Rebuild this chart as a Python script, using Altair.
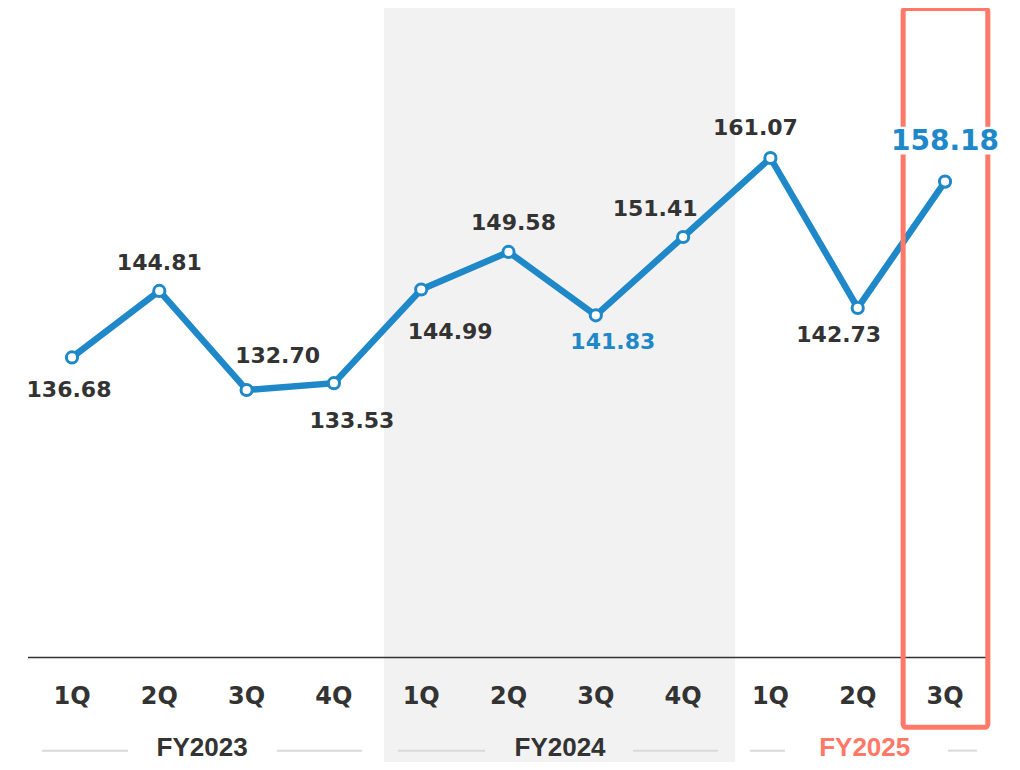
import altair as alt
import pandas as pd

# ---- data ----
quarters = ["1Q", "2Q", "3Q", "4Q", "1Q", "2Q", "3Q", "4Q", "1Q", "2Q", "3Q"]
values = [136.68, 144.81, 132.70, 133.53, 144.99, 149.58, 141.83, 151.41, 161.07, 142.73, 158.18]
fiscal_years = ["FY2023", "FY2024", "FY2025"]
fy_centers = [1.49, 5.59, 9.08]

# label styling (offsets in px), colours, sizes
label_dx = [-3, 0, 31, 18, 29, 5, 17, -28, -15, -19, 0]
label_dy = [33, -28, -34, 38, 43, -29, 27, -28, -30, 27, -40]
label_color = ["#333333"] * 11
label_color[6] = "#1E88C8"
label_color[10] = "#1E88C8"
label_size = [22] * 11
label_size[10] = 28

BLUE = "#1E88C8"
RED = "#FF7868"
DARK = "#333333"
FONT = "DejaVu Sans"

XDOM = [-0.733, 10.767]
YDOM = [87.21, 179.41]
xs = alt.Scale(domain=XDOM, nice=False, zero=False)
ys = alt.Scale(domain=YDOM, nice=False, zero=False)

df = pd.DataFrame({"i": list(range(len(values))), "v": values, "q": quarters})

# grey band behind FY2024
band = alt.Chart(pd.DataFrame({"x": [3.574], "x2": [7.595], "y": [YDOM[0]], "y2": [YDOM[1] + 0.2]})).mark_rect(
    color="#F2F2F2", clip=True
).encode(
    x=alt.X("x:Q", scale=xs, axis=None), x2="x2", y=alt.Y("y:Q", scale=ys, axis=None), y2="y2"
)

# baseline
base = alt.Chart(pd.DataFrame({"x": [-0.504], "x2": [10.49], "y": [100]})).mark_rule(
    color=DARK, strokeWidth=1.5
).encode(x=alt.X("x:Q", scale=xs, axis=None), x2="x2", y=alt.Y("y:Q", scale=ys, axis=None))

line = alt.Chart(df).mark_line(color=BLUE, strokeWidth=6.5).encode(
    x=alt.X("i:Q", scale=xs, axis=None), y=alt.Y("v:Q", scale=ys, axis=None)
)
pts = alt.Chart(df).mark_point(
    filled=True, fill="white", stroke=BLUE, strokeWidth=3, size=125, opacity=1
).encode(x=alt.X("i:Q", scale=xs, axis=None), y=alt.Y("v:Q", scale=ys, axis=None))

# value labels
label_layers = []
for k, (v, dx, dy, c, s) in enumerate(zip(values, label_dx, label_dy, label_color, label_size)):
    d = pd.DataFrame({"i": [k], "v": [v], "t": [f"{v:.2f}"]})
    label_layers.append(
        alt.Chart(d).mark_text(
            font=FONT, fontWeight="bold", fontSize=s, color=c, dx=dx, dy=dy, baseline="middle", align="center"
        ).encode(x=alt.X("i:Q", scale=xs, axis=None), y=alt.Y("v:Q", scale=ys, axis=None), text="t:N")
    )

# quarter labels
qlab = alt.Chart(df).transform_calculate(yy="95.16").mark_text(
    font=FONT, fontWeight="bold", fontSize=24, color=DARK, baseline="middle"
).encode(x=alt.X("i:Q", scale=xs, axis=None), y=alt.Y("yy:Q", scale=ys, axis=None), text="q:N")

# fiscal year labels
fy_df = pd.DataFrame({"x": fy_centers, "t": fiscal_years, "y": [88.92] * 3})
fylab = alt.Chart(fy_df).mark_text(
    font="Liberation Sans", fontWeight="bold", fontSize=26, baseline="middle"
).encode(
    x=alt.X("x:Q", scale=xs, axis=None),
    y=alt.Y("y:Q", scale=ys, axis=None),
    text="t:N",
    color=alt.Color("t:N", scale=alt.Scale(domain=fiscal_years, range=[DARK, DARK, RED]), legend=None),
)
seg_df = pd.DataFrame({
    "x": [-0.344, 2.348, 3.734, 6.426, 7.766, 10.034],
    "x2": [0.641, 3.322, 4.731, 7.400, 8.167, 10.367],
    "y": [88.6] * 6,
})
fysegs = alt.Chart(seg_df).mark_rule(color="#D9D9D9", strokeWidth=2).encode(
    x=alt.X("x:Q", scale=xs, axis=None), x2="x2", y=alt.Y("y:Q", scale=ys, axis=None)
)

# highlight frame around latest quarter
frame = alt.Chart(pd.DataFrame({"x": [9.52], "x2": [10.49], "y": [91.45], "y2": [179.35]})).mark_rect(
    fillOpacity=0, stroke=RED, strokeWidth=5, cornerRadius=3
).encode(x=alt.X("x:Q", scale=xs, axis=None), x2="x2", y=alt.Y("y:Q", scale=ys, axis=None), y2="y2")

# white backing behind highlighted label so it cuts the frame
backing = alt.Chart(pd.DataFrame({"x": [9.40], "x2": [10.61], "y": [161.5], "y2": [164.9]})).mark_rect(
    color="white"
).encode(x=alt.X("x:Q", scale=xs, axis=None), x2="x2", y=alt.Y("y:Q", scale=ys, axis=None), y2="y2")

chart = alt.layer(
    band, base, line, pts, *label_layers[:10], qlab, fysegs, fylab, frame, backing, label_layers[10]
).properties(
    width=1004, height=754, autosize=alt.AutoSizeParams(type="none"), padding=0
).configure_view(stroke=None)

chart.save("out.html", embed_options={"renderer": "svg", "actions": False})
